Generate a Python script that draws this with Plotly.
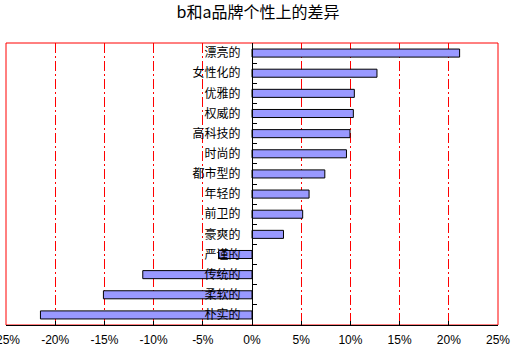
import plotly.graph_objects as go

categories = ["漂亮的", "女性化的", "优雅的", "权威的", "高科技的", "时尚的", "都市型的",
              "年轻的", "前卫的", "豪爽的", "严谨的", "传统的", "柔软的", "朴实的"]
values = [21.1, 12.7, 10.4, 10.3, 9.96, 9.6, 7.4, 5.8, 5.15, 3.2, -3.4, -11.1, -15.1, -21.5]
x_ticks = [-25, -20, -15, -10, -5, 0, 5, 10, 15, 20, 25]
x_tick_labels = [f"{v}%" for v in x_ticks]
title_text = "b和a品牌个性上的差异"

fig = go.Figure(go.Bar(
    x=values, y=categories, orientation="h",
    marker=dict(color="#9999FF", line=dict(color="black", width=1)),
    width=0.4,
))

font_cjk = "Noto Sans CJK SC, SimSun, sans-serif"

fig.update_layout(
    width=516, height=352,
    margin=dict(l=6, r=18, t=43, b=27),
    paper_bgcolor="white", plot_bgcolor="white",
    showlegend=False,
    title=dict(text=title_text, x=0.5, xanchor="center", y=0.965, yanchor="middle",
               font=dict(family=font_cjk, size=16, color="black")),
    xaxis=dict(range=[-25, 25], tickvals=x_ticks, ticktext=x_tick_labels,
               showgrid=True, gridcolor="red", griddash="10px,3px,2px,3px", gridwidth=1,
               zeroline=True, zerolinecolor="black", zerolinewidth=1,
               showline=True, linecolor="black", linewidth=1,
               ticks="inside", ticklen=4, tickcolor="black",
               ticklabeloverflow="allow", ticklabelstandoff=4, automargin=False,
               tickfont=dict(family="Liberation Sans, Arial, sans-serif", size=12, color="black"),
               fixedrange=True),
    yaxis=dict(categoryorder="array", categoryarray=categories, autorange="reversed",
               anchor="free", position=0.5, showline=True, linecolor="black", linewidth=1,
               ticks="inside", ticklen=4, tickcolor="black", tickson="boundaries",
               showgrid=False, ticklabelstandoff=9, automargin=False,
               tickfont=dict(family=font_cjk, size=12, color="black")),
    shapes=[dict(type="rect", xref="paper", yref="paper", x0=0, x1=1, y0=0, y1=1,
                 line=dict(color="red", width=1), layer="below")],
)

fig.write_html("out.html")
